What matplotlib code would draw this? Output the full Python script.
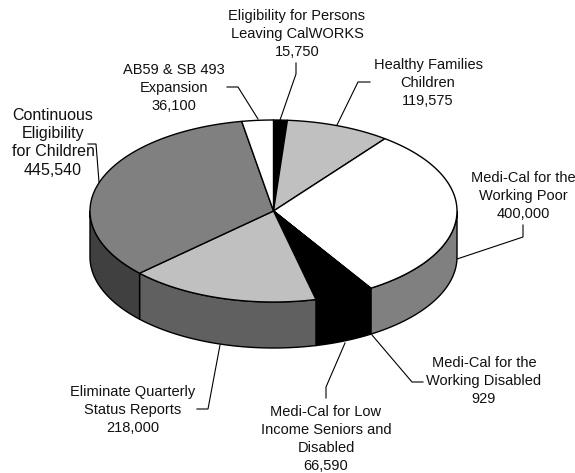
import numpy as np
import matplotlib
matplotlib.use('Agg')
import matplotlib.pyplot as plt
from matplotlib.patches import Polygon

plt.rcParams['font.family'] = ['Liberation Sans', 'DejaVu Sans']

# valeurs dans le sens horaire depuis le haut
labels = ['Eligibility for Persons\nLeaving CalWORKS\n15,750',
          'Healthy Families\nChildren\n119,575',
          'Medi-Cal for the\nWorking Poor\n400,000',
          'Medi-Cal for the\nWorking Disabled\n929',
          'Medi-Cal for Low\nIncome Seniors and\nDisabled\n66,590',
          'Eliminate Quarterly\nStatus Reports\n218,000',
          'Continuous\nEligibility\nfor Children\n445,540',
          'AB59 & SB 493\nExpansion\n36,100']
values = [15750, 119575, 400000, 929, 66590, 218000, 445540, 36100]
top_colors = ['#000000', '#c0c0c0', '#ffffff', '#000000', '#000000', '#c0c0c0', '#808080', '#ffffff']
side_colors = ['#000000', '#606060', '#808080', '#000000', '#000000', '#606060', '#404040', '#808080']

# position du texte (centre, haut) et traits de rappel en pixels
label_pos = [(297, 9), (428, 58), (523, 171), (484, 356), (326, 404.5), (132.5, 385), (53, 108), (174, 63)]
label_size = [10.5, 10.5, 10.5, 10.5, 10.5, 10.5, 11.5, 10.5]
label_space = [1.38, 1.38, 1.38, 1.38, 1.38, 1.38, 1.27, 1.38]
leaders = [[(296, 63), (296, 74), (280, 120)],
           [(370, 82), (358, 82), (337, 125)],
           [(523, 225), (523, 237), (457, 259)],
           [(423, 382), (412, 382), (372, 335)],
           [(326, 398), (326, 387), (345, 343)],
           [(197, 409), (208, 409), (220, 345)],
           [(88, 144), (96, 144), (99, 182)],
           [(227, 87), (238, 87), (258, 119)]]

cx, cy, a, b, depth = 273.5, 211, 183.5, 91, 46


def arc(t0, t1, dy=0):
    t = np.radians(np.linspace(t0, t1, max(int(abs(t1 - t0) * 2), 2)))
    return np.column_stack([cx + a * np.sin(t), cy - b * np.cos(t) + dy])


fig = plt.figure(figsize=(5.75, 4.73), dpi=100)
ax = fig.add_axes([0, 0, 1, 1])
ax.set_xlim(0, 575)
ax.set_ylim(473, 0)
ax.axis('off')

bounds = np.concatenate([[0], np.cumsum(values)]) / sum(values) * 360

# les cotes d'abord, seulement la moitie avant
for i in range(len(values)):
    t0, t1 = max(bounds[i], 90), min(bounds[i + 1], 270)
    if t1 <= t0:
        continue
    pts = np.vstack([arc(t0, t1), arc(t0, t1, depth)[::-1]])
    ax.add_patch(Polygon(pts, closed=True, fc=side_colors[i], ec='black', lw=1, joinstyle='round'))

# le dessus
for i in range(len(values)):
    pts = np.vstack([[(cx, cy)], arc(bounds[i], bounds[i + 1])])
    ax.add_patch(Polygon(pts, closed=True, fc=top_colors[i], ec='black', lw=1, joinstyle='round'))

for i in range(len(values)):
    xs, ys = zip(*leaders[i])
    ax.plot(xs, ys, color='black', lw=0.8, solid_joinstyle='miter')
    ax.text(label_pos[i][0], label_pos[i][1], labels[i], ha='center', va='top',
            fontsize=label_size[i], linespacing=label_space[i], color='#111111')

fig.savefig('out.png', dpi=100)
plt.close()
